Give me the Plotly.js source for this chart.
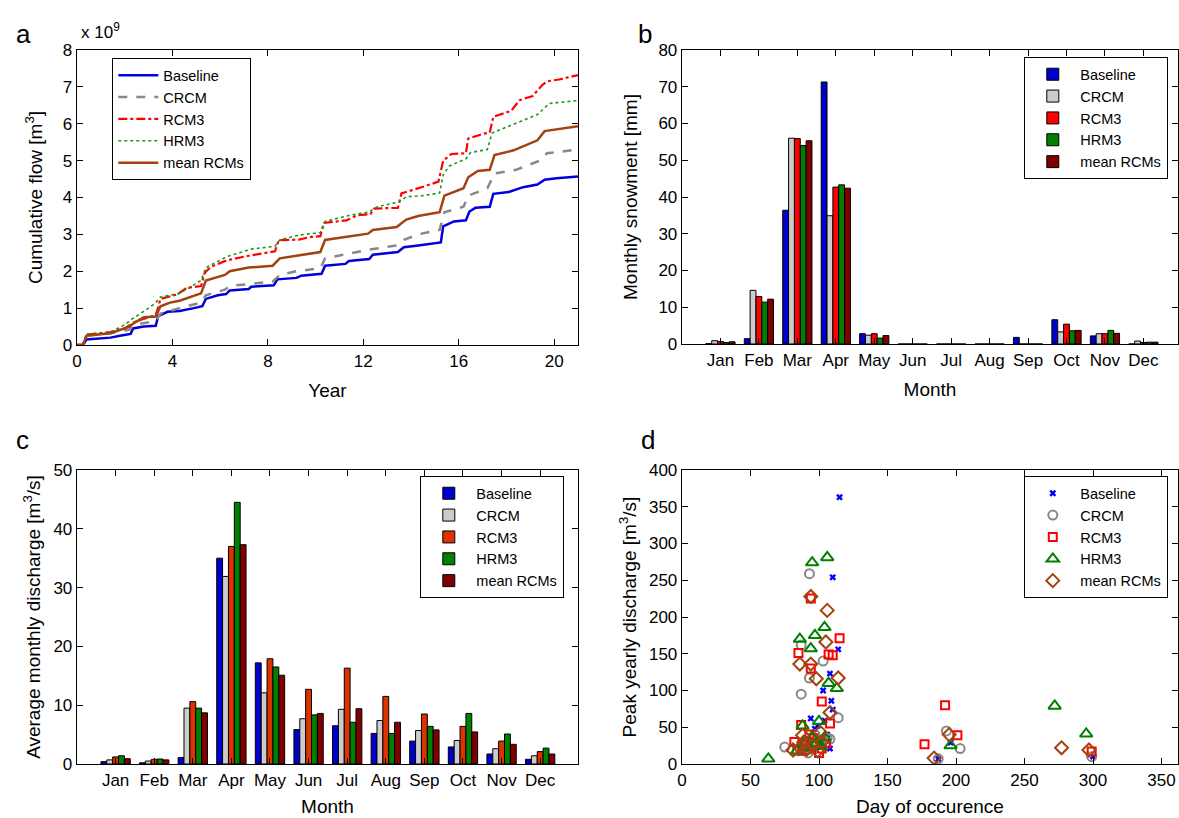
<!DOCTYPE html>
<html><head><meta charset="utf-8">
<script src="https://cdn.plot.ly/plotly-3.0.1.min.js"></script>
<style>body{margin:0;padding:0;background:#fff}#chart{width:1179px;height:818px}</style>
</head><body><div id="chart"></div>
<script>
// ---------- Panel a: cumulative flow (x 10^9 m3) ----------
const baseYr  = [0,0.25,0.4,1.4,1.8,2.25,2.35,2.8,3.3,3.4,3.8,4.3,4.9,5.25,5.4,5.9,6.25,6.4,7.2,7.3,8.25,8.4,9.2,9.4,10.25,10.4,11.25,11.4,12.25,12.4,13.45,13.7,14.3,15.25,15.35,15.8,16.3,16.45,16.7,17.3,17.45,18.1,18.7,19.3,19.6,20.1,21];
const baseCum = [0,0,0.15,0.2,0.25,0.3,0.45,0.5,0.52,0.78,0.9,0.92,1.0,1.05,1.25,1.35,1.38,1.48,1.52,1.58,1.62,1.78,1.82,1.88,1.93,2.15,2.2,2.28,2.33,2.45,2.52,2.65,2.7,2.78,3.22,3.35,3.38,3.62,3.72,3.75,4.1,4.15,4.28,4.35,4.48,4.52,4.57];
const crcmYr  = [0,0.25,0.4,1.4,2.2,2.4,3.3,3.5,4.3,5.2,5.4,6.2,6.4,7.2,8.2,8.5,9.2,10.2,10.4,11.2,12.2,13.4,13.7,14.3,15.2,15.4,16.2,16.4,17.2,17.5,18.4,19.4,19.7,21];
const crcmCum = [0,0,0.25,0.32,0.42,0.55,0.65,0.85,1.0,1.15,1.35,1.5,1.6,1.65,1.72,1.9,2.0,2.08,2.35,2.45,2.58,2.7,2.85,3.0,3.12,3.6,3.75,4.05,4.25,4.65,4.75,5.0,5.2,5.3];
const rcm3Yr  = [0,0.25,0.4,1.4,2.0,2.4,3.0,3.3,3.5,4.2,4.6,5.2,5.35,5.6,6.3,7.2,8.3,8.45,9.3,9.8,10.2,10.35,11.3,11.75,12.3,12.45,13.45,13.6,14.5,15.15,15.35,15.7,16.3,16.4,17.1,17.3,17.45,18.2,18.55,19.1,19.5,19.7,20.2,21];
const rcm3Cum = [0,0,0.28,0.35,0.45,0.62,0.75,0.8,1.25,1.37,1.55,1.6,1.95,2.12,2.3,2.42,2.54,2.84,2.86,2.93,2.95,3.31,3.38,3.52,3.55,3.7,3.72,4.11,4.29,4.43,5.0,5.18,5.2,5.6,5.74,5.76,6.19,6.35,6.64,6.75,7.05,7.15,7.2,7.32];
const hrm3Yr  = [0,0.25,0.4,1.4,2.0,2.3,3.0,3.3,3.5,4.3,5.2,5.4,5.7,6.3,7.3,8.3,8.5,9.3,10.2,10.4,11.3,12.2,12.6,13.5,13.8,14.5,15.2,15.35,15.6,16.3,16.5,17.2,17.4,18.5,19.3,19.8,21];
const hrm3Cum = [0,0,0.3,0.35,0.55,0.7,1.0,1.15,1.3,1.4,1.75,2.1,2.2,2.4,2.6,2.68,2.85,2.98,3.05,3.35,3.5,3.6,3.75,3.88,4.02,4.05,4.12,4.62,4.85,5.05,5.22,5.3,5.75,6.05,6.25,6.55,6.63];
const meanYr  = [0,0.25,0.4,1.4,2.2,2.4,2.8,3.3,3.5,3.9,4.3,5.2,5.4,6.2,6.4,7.2,8.2,8.5,9.2,10.2,10.4,11.2,12.2,12.4,13.4,13.8,14.3,15.2,15.4,16.2,16.4,16.8,17.3,17.5,18.3,19.3,19.6,21];
const meanCum = [0,0,0.25,0.32,0.5,0.6,0.75,0.77,1.05,1.15,1.2,1.4,1.75,1.9,2.0,2.1,2.15,2.35,2.42,2.52,2.85,2.92,3.02,3.12,3.2,3.4,3.5,3.6,4.05,4.25,4.55,4.72,4.75,5.15,5.28,5.55,5.8,5.93];

// ---------- Panels b, c: monthly bars ----------
const months = ['Jan','Feb','Mar','Apr','May','Jun','Jul','Aug','Sep','Oct','Nov','Dec'];
const snowBaseline = [0.1,1.45,36.4,71.3,2.8,0,0,0,1.8,6.6,2.2,0];
const snowCRCM     = [0.9,14.6,56.0,34.9,2.4,0,0,0,0,3.3,2.8,0.8];
const snowRCM3     = [0.7,12.9,55.9,42.7,2.8,0,0,0,0,5.4,2.8,0.4];
const snowHRM3     = [0.4,11.4,54.0,43.3,1.6,0,0,0,0,3.6,3.7,0.5];
const snowMean     = [0.6,12.2,55.3,42.4,2.3,0,0,0,0,3.7,2.9,0.5];

const dischBaseline = [0.4,0.2,1.1,35.0,17.2,5.85,6.5,5.2,3.9,2.9,1.7,0.8];
const dischCRCM     = [0.7,0.5,9.5,31.9,12.1,7.7,9.3,7.4,5.7,4.0,2.6,1.4];
const dischRCM3     = [1.2,0.8,10.6,37.0,17.9,12.7,16.3,11.5,8.5,6.4,3.9,2.1];
const dischHRM3     = [1.4,0.85,9.5,44.5,16.5,8.35,7.1,5.2,6.4,8.6,5.1,2.7];
const dischMean     = [0.9,0.7,8.7,37.3,15.1,8.6,9.4,7.1,5.8,5.45,3.35,1.7];

// ---------- Panel d: peak yearly discharge vs day ----------
const peakDayBaseline = [115,110,114,108,103,109,110,94,104,97,99,108,96,92,102,196,187,300,88,100,106];
const peakBaseline    = [363,254,156,123,100,86,74,62,59,48,52,21,17,22,30,29,7,10,25,35,40];
const peakDayCRCM = [93,87,103,93,87,114,108,75,193,203,187,299,88,95,101,90,84,98,106,92,97];
const peakCRCM    = [259,162,140,117,95,63,34,23,45,21,7,10,22,20,28,30,18,25,35,15,40];
const peakDayRCM3 = [94,115,85,107,110,94,102,108,87,82,102,192,201,177,299,90,96,105,88,100,93];
const peakRCM3    = [225,171,151,149,148,130,85,55,53,30,21,80,39,27,17,25,35,28,18,15,40];
const peakDayHRM3 = [95,106,104,97,86,94,107,113,100,88,95,104,84,63,272,295,196,90,98,92,101];
const peakHRM3    = [274,281,186,175,170,157,110,103,58,52,36,36,18,7,79,41,25,30,28,22,24];
const peakDayMean = [94,106,105,86,94,98,114,108,88,101,81,91,195,184,277,297,89,95,102,86,99];
const peakMean    = [228,209,166,136,136,116,117,70,39,43,19,20,40,8,22,19,30,25,30,22,18];

const seriesNames = ['Baseline','CRCM','RCM3','HRM3','mean RCMs'];

// ---------- layout helpers ----------
const W = 1179, H = 818;
const fx = v => v / W, fy = v => 1 - v / H;
const FONT = 'Liberation Sans, Arial, Helvetica, sans-serif';
const BROWN = '#a3410f';

function ax(extra) {
  return Object.assign({
    showline: true, linecolor: '#000', linewidth: 1.3, mirror: 'allticks',
    ticks: 'inside', ticklen: 6, tickcolor: '#000', tickwidth: 1,
    showgrid: false, zeroline: false, fixedrange: true,
    tickfont: { family: FONT, size: 17, color: '#000' }
  }, extra);
}
function ttl(text, standoff) {
  return { text: text, font: { family: FONT, size: 19, color: '#000' }, standoff: standoff };
}

const traces = [];
// Panel a lines
const lineSpecs = [
  [baseYr, baseCum, '#0000dd', 'solid', 2.5],
  [crcmYr, crcmCum, '#888888', 'dash', 2.5],
  [rcm3Yr, rcm3Cum, '#ff0000', 'dashdot', 2.2],
  [hrm3Yr, hrm3Cum, '#1a9a1a', 'dot', 1.6],
  [meanYr, meanCum, BROWN, 'solid', 2.5]
];
lineSpecs.forEach((s, i) => traces.push({
  type: 'scatter', mode: 'lines', x: s[0], y: s[1], name: seriesNames[i],
  line: { color: s[2], dash: s[3], width: s[4] }, xaxis: 'x', yaxis: 'y', legend: 'legend'
}));

// Panel b bars
const snowSets = [snowBaseline, snowCRCM, snowRCM3, snowHRM3, snowMean];
const snowColors = ['#0000cc', '#cccccc', '#ff0000', '#008000', '#800000'];
snowSets.forEach((v, i) => traces.push({
  type: 'bar', x: months, y: v, name: seriesNames[i],
  marker: { color: snowColors[i], line: { color: '#000', width: 1 } },
  xaxis: 'x2', yaxis: 'y2', legend: 'legend2'
}));

// Panel c bars
const dischSets = [dischBaseline, dischCRCM, dischRCM3, dischHRM3, dischMean];
const dischColors = ['#0000cc', '#cccccc', '#dd3300', '#008000', '#800000'];
dischSets.forEach((v, i) => traces.push({
  type: 'bar', x: months, y: v, name: seriesNames[i],
  marker: { color: dischColors[i], line: { color: '#000', width: 1 } },
  xaxis: 'x3', yaxis: 'y3', legend: 'legend3'
}));

// Panel d scatter
const scatSpecs = [
  [peakDayBaseline, peakBaseline, 'x', '#0000ff', 6, 0],
  [peakDayCRCM, peakCRCM, 'circle-open', '#888888', 9, 2],
  [peakDayRCM3, peakRCM3, 'square-open', '#ff0000', 8, 2],
  [peakDayHRM3, peakHRM3, 'triangle-up-open', '#008000', 11, 2],
  [peakDayMean, peakMean, 'diamond-open', BROWN, 10, 2]
];
scatSpecs.forEach((s, i) => traces.push({
  type: 'scatter', mode: 'markers', x: s[0], y: s[1], name: seriesNames[i],
  marker: { symbol: s[2], color: s[3], size: s[4], line: { color: s[3], width: s[5] } },
  xaxis: 'x4', yaxis: 'y4', legend: 'legend4'
}));

function leg(x, y, extra) {
  return Object.assign({
    x: fx(x), y: fy(y), xanchor: 'left', yanchor: 'top',
    bgcolor: '#fff', bordercolor: '#000', borderwidth: 1.3,
    font: { family: FONT, size: 14.5, color: '#000' }, traceorder: 'normal'
  }, extra || {});
}

const layout = {
  width: W, height: H, margin: { l: 0, r: 0, t: 0, b: 0 },
  paper_bgcolor: '#fff', plot_bgcolor: '#fff',
  font: { family: FONT, color: '#000' },
  barmode: 'group', bargap: 0.24, bargroupgap: 0,
  xaxis: ax({ domain: [fx(77), fx(578)], range: [0, 21], tickvals: [0,4,8,12,16,20], anchor: 'y', title: ttl('Year', 14) }),
  yaxis: ax({ domain: [fy(345), fy(50)], range: [0, 8], dtick: 1, anchor: 'x', title: ttl('Cumulative flow [m<sup>3</sup>]', 15) }),
  xaxis2: ax({ domain: [fx(682), fx(1178)], range: [-1, 11.9], type: 'category', anchor: 'y2', title: ttl('Month', 14) }),
  yaxis2: ax({ domain: [fy(344), fy(50)], range: [0, 80], dtick: 10, anchor: 'x2', title: ttl('Monthly snowment [mm]', 15) }),
  xaxis3: ax({ domain: [fx(77), fx(578)], range: [-1, 11.98], type: 'category', anchor: 'y3', title: ttl('Month', 11) }),
  yaxis3: ax({ domain: [fy(764), fy(470)], range: [0, 50], dtick: 10, anchor: 'x3', title: ttl('Average monthly discharge [m<sup>3</sup>/s]', 7) }),
  xaxis4: ax({ domain: [fx(682), fx(1178)], range: [0, 362], dtick: 50, anchor: 'y4', title: ttl('Day of occurence', 11) }),
  yaxis4: ax({ domain: [fy(764), fy(470)], range: [0, 400], dtick: 50, anchor: 'x4', title: ttl('Peak yearly discharge [m<sup>3</sup>/s]', 7) }),
  legend: leg(112, 58, { itemwidth: 40 }),
  legend2: leg(1024, 57, { itemwidth: 45 }),
  legend3: leg(420, 476, { itemwidth: 45 }),
  legend4: leg(1024, 476, { itemwidth: 45 }),
  annotations: [
    { text: 'a', x: fx(14), y: fy(17), xref: 'paper', yref: 'paper', showarrow: false, font: { family: FONT, size: 26 } },
    { text: 'b', x: fx(645), y: fy(17), xref: 'paper', yref: 'paper', showarrow: false, font: { family: FONT, size: 26 } },
    { text: 'c', x: fx(14), y: fy(440), xref: 'paper', yref: 'paper', showarrow: false, font: { family: FONT, size: 26 } },
    { text: 'd', x: fx(648), y: fy(440), xref: 'paper', yref: 'paper', showarrow: false, font: { family: FONT, size: 26 } },
    { text: 'x 10<sup>9</sup>', x: fx(79), y: fy(44), xref: 'paper', yref: 'paper', xanchor: 'left', yanchor: 'bottom', showarrow: false, font: { family: FONT, size: 17 } }
  ]
};

Plotly.newPlot('chart', traces, layout, { displayModeBar: false, staticPlot: true });
</script></body></html>
